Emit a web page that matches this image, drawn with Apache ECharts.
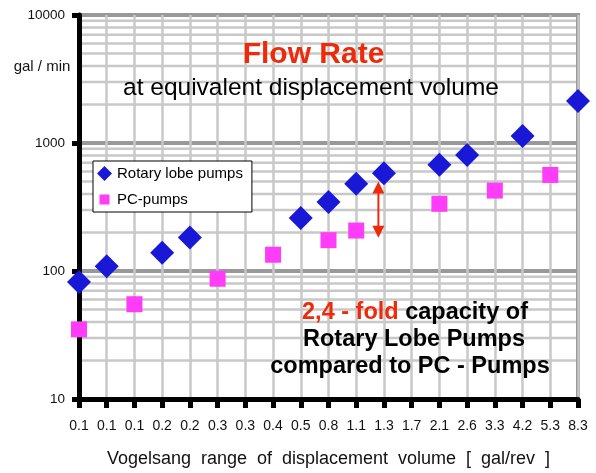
<!DOCTYPE html>
<html>
<head>
<meta charset="utf-8">
<script src="https://cdn.jsdelivr.net/npm/echarts@6/dist/echarts.min.js"></script>
<style>
html,body{margin:0;padding:0;background:#fff;}
#chart{width:596px;height:473px;}
</style>
</head>
<body>
<div id="chart"></div>
<script>
// ---- data ----
const categories = ['0.1','0.1','0.1','0.2','0.2','0.3','0.3','0.4','0.5','0.8','1.1','1.3','1.7','2.1','2.6','3.3','4.2','5.3','8.3'];
const rotaryLobe = [82,109,null,139,183,null,null,null,259,346,480,581,null,675,807,null,1132,null,2125];
const pcPumps    = [35,null,55,null,null,87,null,134,null,174,207,null,null,335,null,425,null,563,null];
const minorGridValues = [20,30,40,50,60,70,80,90,200,300,400,500,600,700,800,900,2000,3000,4000,5000,6000,7000,8000,9000];
const arrowRange = {index: 10.8, top: 500, bottom: 182};

const FONT = '"Liberation Sans", Arial, Helvetica, sans-serif';
const RED = '#ee2a0a';

const chart = echarts.init(document.getElementById('chart'), null, {renderer:'canvas'});

const option = {
  animation: false,
  backgroundColor: '#ffffff',
  textStyle: {fontFamily: FONT},
  grid: {left: 79, right: 18, top: 15, bottom: 73, show: true, borderColor: '#999999', borderWidth: 4, backgroundColor: 'transparent', z: 0},
  legend: {
    orient: 'vertical', left: 93, top: 161,
    padding: [5, 9, 5, 4],
    itemWidth: 15, itemHeight: 15, itemGap: 11,
    backgroundColor: '#ffffff', borderColor: '#000000', borderWidth: 1,
    textStyle: {fontSize: 15, color: '#000', fontFamily: FONT},
    data: [
      {name: 'Rotary lobe pumps', icon: 'diamond'},
      {name: 'PC-pumps', icon: 'path://M0,0M15,15M2.5,2.5L12.5,2.5L12.5,12.5L2.5,12.5Z'}
    ],
    z: 10
  },
  xAxis: {
    type: 'category', data: categories, boundaryGap: false, z: 2,
    axisLine: {lineStyle: {color: '#000', width: 5}},
    axisTick: {show: true, length: 9, lineStyle: {color: '#000', width: 5}},
    axisLabel: {color: '#111', fontSize: 14, margin: 20, interval: 0, fontFamily: FONT},
    splitLine: {show: true, lineStyle: {color: '#c8c8c8', width: 2.5}},
    name: 'Vogelsang  range  of  displacement  volume  [  gal/rev  ]',
    nameLocation: 'middle', nameGap: 51,
    nameTextStyle: {fontSize: 18, color: '#111', fontFamily: FONT}
  },
  yAxis: {
    type: 'log', logBase: 10, min: 10, max: 10000, z: 2,
    axisLine: {show: true, lineStyle: {color: '#000', width: 5}},
    axisTick: {show: true, length: 7, lineStyle: {color: '#000', width: 5}},
    axisLabel: {color: '#111', fontSize: 13.5, margin: 14, fontFamily: FONT, formatter: v => String(Math.round(v))},
    splitLine: {show: true, lineStyle: {color: '#999999', width: 4}},
    minorTick: {show: false}, minorSplitLine: {show: false}
  },
  series: [
    {
      name: 'grid-minor', type: 'custom', z: 1, silent: true,
      data: minorGridValues.map(v => [0, v]),
      encode: {x: 0, y: 1},
      renderItem: (params, api) => {
        const cs = params.coordSys;
        const y = api.coord([0, api.value(1)])[1];
        return {
          type: 'line', silent: true,
          shape: {x1: cs.x + 3, y1: y, x2: cs.x + cs.width - 2, y2: y},
          style: {stroke: '#c8c8c8', lineWidth: 2.5}
        };
      }
    },
    {
      name: 'Rotary lobe pumps', type: 'scatter', data: rotaryLobe, z: 12,
      symbol: 'diamond', symbolSize: 24,
      itemStyle: {color: '#1818d6', opacity: 1}
    },
    {
      name: 'PC-pumps', type: 'scatter', data: pcPumps, z: 11,
      symbol: 'rect', symbolSize: 16,
      itemStyle: {color: '#ff3cf8', opacity: 1}
    }
  ]
};
chart.setOption(option);

// annotation texts and arrow
const p0 = chart.convertToPixel({xAxisIndex: 0}, Math.floor(arrowRange.index));
const p1 = chart.convertToPixel({xAxisIndex: 0}, Math.floor(arrowRange.index) + 1);
const ax = p0 + (p1 - p0) * (arrowRange.index - Math.floor(arrowRange.index));
const yTop = chart.convertToPixel({yAxisIndex: 0}, arrowRange.top);
const yBot = chart.convertToPixel({yAxisIndex: 0}, arrowRange.bottom);
const head = 12, hw = 6;

chart.setOption({
  graphic: [
    {type: 'text', x: 313.5, y: 55, z: 20, style: {text: 'Flow Rate', fill: RED, font: 'bold 30px ' + FONT, textAlign: 'center', textVerticalAlign: 'middle'}},
    {type: 'text', x: 311, y: 88, z: 20, style: {text: 'at equivalent displacement volume', fill: '#000', font: '24.5px ' + FONT, textAlign: 'center', textVerticalAlign: 'middle'}},
    {type: 'text', x: 42, y: 67, z: 20, style: {text: 'gal / min', fill: '#111', font: '15px ' + FONT, textAlign: 'center', textVerticalAlign: 'middle'}},
    {type: 'text', x: 415, y: 313, z: 20, style: {
      text: '{r|2,4 - fold }{b|capacity of}', textAlign: 'center', textVerticalAlign: 'middle',
      rich: {r: {fill: RED, font: 'bold 23.5px ' + FONT}, b: {fill: '#000', font: 'bold 23.5px ' + FONT}}
    }},
    {type: 'text', x: 414, y: 340, z: 20, style: {text: 'Rotary Lobe Pumps', fill: '#000', font: 'bold 23.5px ' + FONT, textAlign: 'center', textVerticalAlign: 'middle'}},
    {type: 'text', x: 410, y: 367, z: 20, style: {text: 'compared to PC - Pumps', fill: '#000', font: 'bold 23.5px ' + FONT, textAlign: 'center', textVerticalAlign: 'middle'}},
    {type: 'line', z: 20, shape: {x1: ax, y1: yTop + head - 1, x2: ax, y2: yBot - head + 1}, style: {stroke: RED, lineWidth: 2}},
    {type: 'polygon', z: 20, shape: {points: [[ax, yTop], [ax - hw, yTop + head], [ax + hw, yTop + head]]}, style: {fill: RED}},
    {type: 'polygon', z: 20, shape: {points: [[ax, yBot], [ax - hw, yBot - head], [ax + hw, yBot - head]]}, style: {fill: RED}}
  ]
});
</script>
</body>
</html>
